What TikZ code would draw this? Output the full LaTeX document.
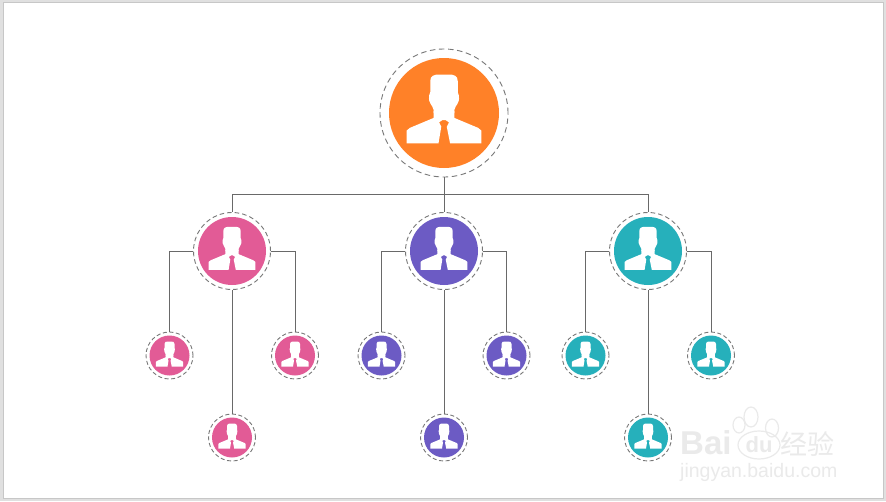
\documentclass[tikz,border=0pt]{standalone}
\usepackage{fontspec}
\setmainfont{Liberation Sans}
\newfontfamily\cjkfont{Noto Sans CJK SC}
\usetikzlibrary{positioning,shapes.geometric}
\definecolor{rootorange}{RGB}{255,129,40}
\definecolor{leadpink}{RGB}{226,91,150}
\definecolor{leadpurple}{RGB}{108,91,196}
\definecolor{leadteal}{RGB}{38,176,187}
\definecolor{wiregray}{RGB}{105,105,105}
\definecolor{ringgray}{RGB}{120,120,120}
\definecolor{markgray}{RGB}{234,234,234}
\definecolor{framegray}{RGB}{224,224,224}

\begin{document}
\begin{tikzpicture}[
  x=1pt, y=-1pt,
  ring/.style={circle, draw=ringgray, line width=0.9pt, inner sep=0pt},
  ringbig/.style={ring, minimum size=128pt, dash pattern=on 5.5pt off 3.6pt},
  ringmid/.style={ring, minimum size=77pt, dash pattern=on 4.6pt off 3pt},
  ringsmall/.style={ring, minimum size=47pt, dash pattern=on 4pt off 2.6pt},
  disc/.style={circle, inner sep=0pt},
  discbig/.style={disc, minimum size=110pt},
  discmid/.style={disc, minimum size=68pt},
  discsmall/.style={disc, minimum size=40pt},
  wire/.style={draw=wiregray, line width=0.9pt},
  wmtext/.style={text=markgray, inner sep=0pt},
  toe/.style={ellipse, draw=markgray, line width=1.2pt, inner sep=0pt},
  personbig/.style={scale=0.55},
  personmid/.style={scale=0.345},
  personsmall/.style={scale=0.2},
  person/.pic={
    % head
    \fill[white]
      (-19,0) -- (-19,-6) .. controls (-21,-16) and (-29,-16) .. (-27,-32)
      -- (-25,-38) -- (-25,-58) .. controls (-25,-68) and (-18,-70) .. (-8,-70)
      -- (8,-70) .. controls (18,-70) and (25,-68) .. (25,-58) -- (25,-38)
      -- (27,-32) .. controls (29,-16) and (21,-16) .. (19,-6) -- (19,0) -- cycle;
    % shoulders, the tie is left open
    \fill[white]
      (-68,55) -- (-68,32) -- (-62,27) -- (-19,9) -- (-19,-4) -- (19,-4) -- (19,9)
      -- (62,27) -- (68,32) -- (68,55) -- (11,55) -- (5,25) -- (9,17) -- (3,13)
      -- (-3,13) -- (-9,17) -- (-5,25) -- (-10,55) -- cycle;
  }]

% ---------- frame ----------
\fill[framegray] (0,0) rectangle (886,501);
\node[draw=black!22, fill=white, line width=0.6pt, inner sep=0pt, anchor=north west,
      minimum width=880pt, minimum height=496pt] (sheet) at (2.5,2) {};

% ---------- top ----------
\node[ringbig] (root) at (444,113) {};
\node[discbig, fill=rootorange] (rootdisc) at (root) {};
\pic[personbig] at (root) {person};

% ---------- middle row ----------
\node[ringmid] (pink) at (232,251) {};
\node[discmid, fill=leadpink] (pinkdisc) at (pink) {};
\pic[personmid] at (pink) {person};

\node[ringmid] (purple) at (444,251) {};
\node[discmid, fill=leadpurple] (purpledisc) at (purple) {};
\pic[personmid] at (purple) {person};

\node[ringmid] (teal) at (648,251) {};
\node[discmid, fill=leadteal] (tealdisc) at (teal) {};
\pic[personmid] at (teal) {person};

% ---------- pink group ----------
\node[ringsmall] (pinkl) at (169.5,355.5) {};
\node[discsmall, fill=leadpink] (pinkldisc) at (pinkl) {};
\pic[personsmall] at (pinkl) {person};
\node[ringsmall] (pinkr) at (295,355.5) {};
\node[discsmall, fill=leadpink] (pinkrdisc) at (pinkr) {};
\pic[personsmall] at (pinkr) {person};
\node[ringsmall] (pinkb) at (232,437.5) {};
\node[discsmall, fill=leadpink] (pinkbdisc) at (pinkb) {};
\pic[personsmall] at (pinkb) {person};

% ---------- purple group ----------
\node[ringsmall] (purplel) at (381.5,355.5) {};
\node[discsmall, fill=leadpurple] (purpleldisc) at (purplel) {};
\pic[personsmall] at (purplel) {person};
\node[ringsmall] (purpler) at (506.5,355.5) {};
\node[discsmall, fill=leadpurple] (purplerdisc) at (purpler) {};
\pic[personsmall] at (purpler) {person};
\node[ringsmall] (purpleb) at (444,437.5) {};
\node[discsmall, fill=leadpurple] (purplebdisc) at (purpleb) {};
\pic[personsmall] at (purpleb) {person};

% ---------- teal group ----------
\node[ringsmall] (teall) at (585.5,355.5) {};
\node[discsmall, fill=leadteal] (tealldisc) at (teall) {};
\pic[personsmall] at (teall) {person};
\node[ringsmall] (tealr) at (711,355.5) {};
\node[discsmall, fill=leadteal] (tealrdisc) at (tealr) {};
\pic[personsmall] at (tealr) {person};
\node[ringsmall] (tealb) at (648,437.5) {};
\node[discsmall, fill=leadteal] (tealbdisc) at (tealb) {};
\pic[personsmall] at (tealb) {person};

% ---------- wires ----------
\coordinate (bus) at (444,194.5);
\draw[wire] (root.south) -- (bus);
\draw[wire] (bus) -| (pink.north);
\draw[wire] (bus) -| (teal.north);
\draw[wire] (bus) -- (purple.north);

\draw[wire] (pink.west) -| (pinkl.north);
\draw[wire] (pink.east) -| (pinkr.north);
\draw[wire] (pink.south) -- (pinkb.north);

\draw[wire] (purple.west) -| (purplel.north);
\draw[wire] (purple.east) -| (purpler.north);
\draw[wire] (purple.south) -- (purpleb.north);

\draw[wire] (teal.west) -| (teall.north);
\draw[wire] (teal.east) -| (tealr.north);
\draw[wire] (teal.south) -- (tealb.north);

% ---------- watermark ----------
\node[wmtext, font=\fontsize{33}{33}\selectfont\bfseries, anchor=west] (wmbai) at (680,443) {Bai};
\node[toe, minimum width=42pt, minimum height=28pt] (wmpalm) at (759,445) {};
\node[wmtext, font=\fontsize{22}{22}\selectfont\bfseries] (wmdu) at (wmpalm) {du};
\node[toe, minimum width=14pt, minimum height=20pt] (wmtoea) at (751,417) {};
\node[toe, minimum width=13pt, minimum height=18pt] (wmtoeb) at (772,428) {};
\node[toe, minimum width=12pt, minimum height=16pt] (wmtoec) at (739,425) {};
\node[wmtext, font=\fontsize{27}{27}\selectfont\cjkfont, anchor=west] (wmjy) at (780,444) {经验};
\node[wmtext, font=\fontsize{19.5}{19.5}\selectfont, anchor=west] (wmurl) at (680,472) {jingyan.baidu.com};
\end{tikzpicture}
\end{document}
